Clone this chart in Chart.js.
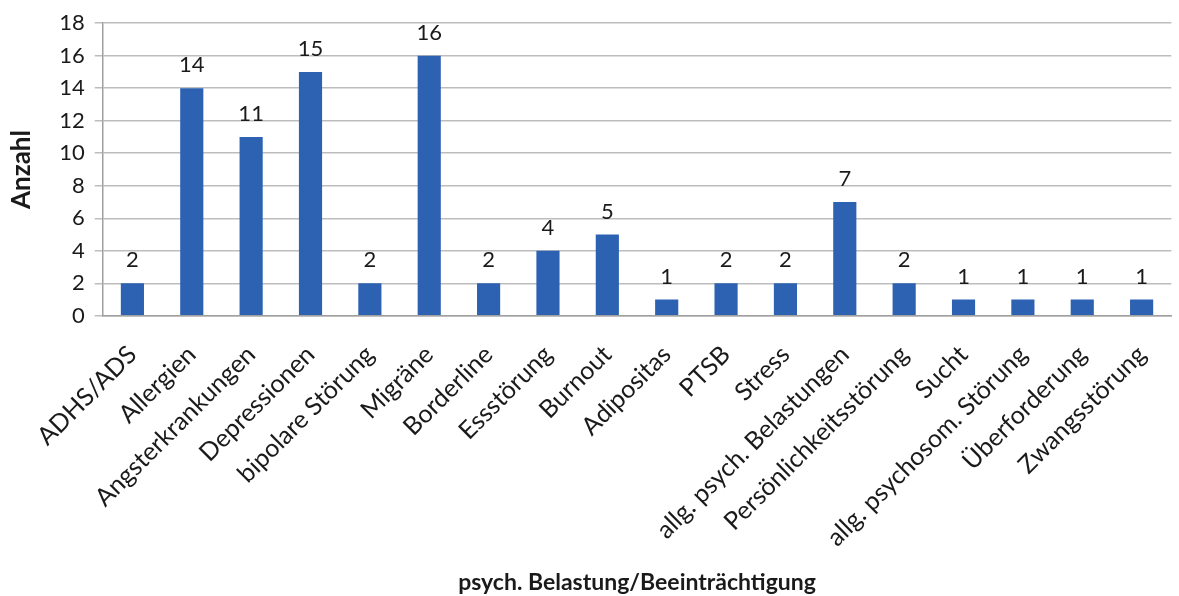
<!DOCTYPE html>
<html>
<head>
<meta charset="utf-8">
<script src="https://cdn.jsdelivr.net/npm/chart.js@4/dist/chart.umd.min.js"></script>
<style>
  html, body { margin: 0; padding: 0; background: #ffffff; }
  #wrap { width: 1179px; height: 596px; }
</style>
</head>
<body>
<div id="wrap"><canvas id="c" width="1179" height="596"></canvas></div>
<script>
const categories = [
  'ADHS/ADS', 'Allergien', 'Angsterkrankungen', 'Depressionen', 'bipolare Störung',
  'Migräne', 'Borderline', 'Essstörung', 'Burnout', 'Adipositas', 'PTSB', 'Stress',
  'allg. psych. Belastungen', 'Persönlichkeitsstörung', 'Sucht',
  'allg. psychosom. Störung', 'Überforderung', 'Zwangsstörung'
];
const counts = [2, 14, 11, 15, 2, 16, 2, 4, 5, 1, 2, 2, 7, 2, 1, 1, 1, 1];
const yTicks = [0, 2, 4, 6, 8, 10, 12, 14, 16, 18];

const FONT = 'Lato, "Open Sans", sans-serif';

// Writes each bar's count above it
const valueLabels = {
  id: 'valueLabels',
  afterDatasetsDraw(chart) {
    const ctx = chart.ctx;
    const meta = chart.getDatasetMeta(0);
    ctx.save();
    ctx.font = '22px ' + FONT;
    ctx.fillStyle = '#1a1a1a';
    ctx.textAlign = 'center';
    ctx.textBaseline = 'alphabetic';
    meta.data.forEach((bar, i) => {
      ctx.fillText(String(chart.data.datasets[0].data[i]), bar.x, bar.y - 16);
    });
    ctx.restore();
  }
};

new Chart(document.getElementById('c'), {
  type: 'bar',
  data: {
    labels: categories,
    datasets: [{
      data: counts,
      backgroundColor: '#2d62b3',
      borderWidth: 0,
      barPercentage: 0.78,
      categoryPercentage: 0.5
    }]
  },
  options: {
    responsive: false,
    animation: false,
    devicePixelRatio: 1,
    layout: { padding: { left: 6, right: 6, top: 7, bottom: 0 } },
    plugins: {
      legend: { display: false },
      tooltip: { enabled: false }
    },
    scales: {
      x: {
        grid: { display: false },
        border: { display: true, color: '#a0a0a0', width: 1.5 },
        ticks: {
          color: '#1a1a1a',
          font: { family: FONT, size: 25 },
          minRotation: 45,
          maxRotation: 45,
          autoSkip: false,
          padding: 16
        },
        title: {
          display: true,
          text: 'psych. Belastung/Beeinträchtigung',
          color: '#1a1a1a',
          font: { family: FONT, size: 23, weight: 'bold' },
          padding: { top: 0, bottom: 0 }
        }
      },
      y: {
        min: 0,
        max: 18,
        afterBuildTicks(axis) { axis.ticks = yTicks.map(v => ({ value: v })); },
        grid: { color: '#bdbdbd', lineWidth: 1.5, tickLength: 8, drawTicks: true },
        border: { display: true, color: '#a0a0a0', width: 1.5 },
        ticks: {
          color: '#1a1a1a',
          font: { family: FONT, size: 22 },
          padding: 10
        },
        title: {
          display: true,
          text: 'Anzahl',
          color: '#1a1a1a',
          font: { family: FONT, size: 26, weight: 'bold' },
          padding: { top: 0, bottom: 12 }
        }
      }
    }
  },
  plugins: [valueLabels]
});
</script>
</body>
</html>
